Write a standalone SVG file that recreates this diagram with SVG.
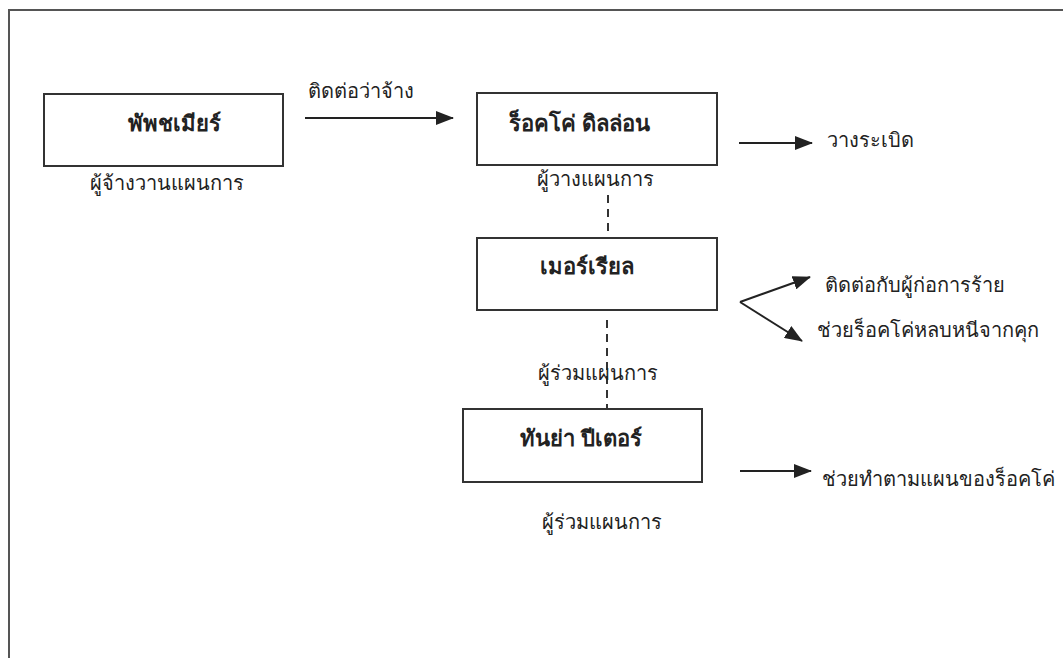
<svg xmlns="http://www.w3.org/2000/svg" width="1063" height="658" viewBox="0 0 1063 658">
<defs>
<marker id="ah" markerUnits="userSpaceOnUse" markerWidth="18" markerHeight="14" refX="17" refY="7" orient="auto">
<path d="M0,0 L18,7 L0,14 Z" fill="#222"/>
</marker>
<style>
.box{fill:#fff;stroke:#333;stroke-width:2}
.lbl{font-family:"Noto Sans","DejaVu Sans",sans-serif;font-size:20px;fill:#222}
.ttl{font-family:"Noto Sans","DejaVu Sans",sans-serif;font-size:22px;font-weight:bold;fill:#222}
.arr{stroke:#222;stroke-width:2;fill:none;marker-end:url(#ah)}
.dash{stroke:#333;stroke-width:2;stroke-dasharray:8,6;fill:none}
</style>
</defs>
<rect width="1063" height="658" fill="#fff"/>
<path d="M9,658 V10 H1063" fill="none" stroke="#555" stroke-width="2"/>
<g id="connectors">
<line class="arr" x1="305" y1="118" x2="453" y2="118"/>
<line class="arr" x1="739" y1="143" x2="812" y2="143"/>
<path class="arr" d="M740,302 L810,277"/>
<path class="arr" d="M740,302 L802,341"/>
<line class="arr" x1="740" y1="471" x2="811" y2="471"/>
<line class="dash" x1="608" y1="195" x2="608" y2="238"/>
<line class="dash" x1="607" y1="320" x2="607" y2="408"/>
</g>
<g id="node-patchamier">
<rect class="box" x="44" y="94" width="239" height="72"/>
<text class="ttl" x="128" y="131">พัพชเมียร์</text>
<text class="lbl" x="90" y="190">ผู้จ้างวานแผนการ</text>
</g>
<g id="label-contact">
<text class="lbl" x="308" y="98">ติดต่อว่าจ้าง</text>
</g>
<g id="node-rocco">
<rect class="box" x="477" y="93" width="240" height="72"/>
<text class="ttl" x="509" y="131">ร็อคโค่ ดิลล่อน</text>
<text class="lbl" x="537" y="186">ผู้วางแผนการ</text>
<text class="lbl" x="827" y="147">วางระเบิด</text>
</g>
<g id="node-meryl">
<rect class="box" x="477" y="238" width="240" height="72"/>
<text class="ttl" x="540" y="274">เมอร์เรียล</text>
<text class="lbl" x="825" y="292">ติดต่อกับผู้ก่อการร้าย</text>
<text class="lbl" x="817" y="337">ช่วยร็อคโค่หลบหนีจากคุก</text>
<text class="lbl" x="538" y="380">ผู้ร่วมแผนการ</text>
</g>
<g id="node-tanya">
<rect class="box" x="463" y="409" width="239" height="73"/>
<text class="ttl" x="520" y="446">ทันย่า ปีเตอร์</text>
<text class="lbl" x="542" y="529">ผู้ร่วมแผนการ</text>
<text class="lbl" x="822" y="486">ช่วยทำตามแผนของร็อคโค่</text>
</g>
</svg>
